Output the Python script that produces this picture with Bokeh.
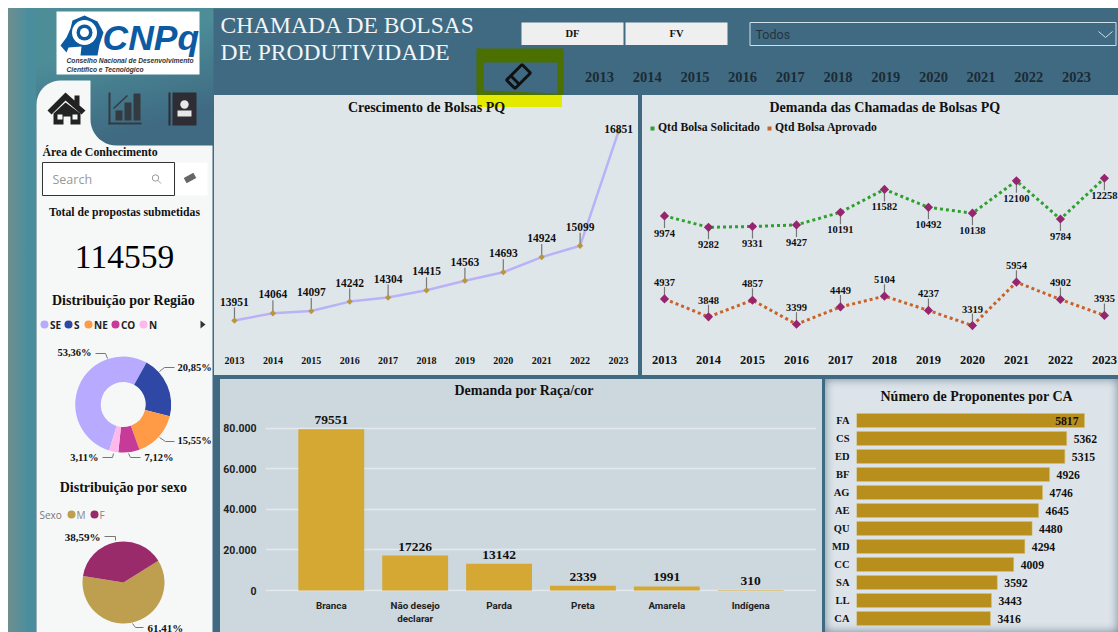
import math
import numpy as np
from bokeh.plotting import figure
from bokeh.layouts import row, column
from bokeh.embed import file_html
from bokeh.resources import INLINE
from bokeh.core.properties import value
from bokeh.models import (ColumnDataSource, Range1d, FactorRange, FixedTicker, Legend, LegendItem, Title)

YEARS = [2013, 2014, 2015, 2016, 2017, 2018, 2019, 2020, 2021, 2022, 2023]
CRESCIMENTO = [13951, 14064, 14097, 14242, 14304, 14415, 14563, 14693, 14924, 15099, 16851]
SOLICITADO = [9974, 9282, 9331, 9427, 10191, 11582, 10492, 10138, 12100, 9784, 12258]
APROVADO = [4937, 3848, 4857, 3399, 4449, 5104, 4237, 3319, 5954, 4902, 3935]
RACA = ["Branca", "Não desejo\ndeclarar", "Parda", "Preta", "Amarela", "Indígena"]
RACA_VAL = [79551, 17226, 13142, 2339, 1991, 310]
RACA_TICKS = [0, 20000, 40000, 60000, 80000]
RACA_TICK_LABELS = ["0", "20.000", "40.000", "60.000", "80.000"]
CA = ["FA", "CS", "ED", "BF", "AG", "AE", "QU", "MD", "CC", "SA", "LL", "CA"]
CA_VAL = [5817, 5362, 5315, 4926, 4746, 4645, 4480, 4294, 4009, 3592, 3443, 3416]
REGIAO = ["SE", "S", "NE", "CO", "N"]
REGIAO_PCT = [53.36, 20.85, 15.55, 7.12, 3.11]
REGIAO_COR = ["#b7aaff", "#2f47a5", "#ff9a47", "#c53b97", "#ffb8ec"]
SEXO = ["M", "F"]
SEXO_PCT = [61.41, 38.59]
SEXO_COR = ["#bd9f4f", "#9a2b6b"]
TOTAL = 114559

SERIF = "Liberation Serif"
SANS = "Open Sans"
DARK = "#3f6a82"
LIGHT = "#dfe6ea"


def put(p, x, y, s, size, color="#111111", style="normal", font=SERIF, align="left"):
    p.text(x=[x], y=[y], text=[s], text_font=value(font), text_font_size=f"{size}px",
           text_font_style=style, text_color=color, text_align=align, text_baseline="middle")


def chrome(w, h, x0, x1):
    p = figure(width=w, height=h, x_range=Range1d(x0, x1), y_range=Range1d(0, h),
               output_backend="svg", toolbar_location=None, x_axis_type=None, y_axis_type=None,
               min_border=0, outline_line_color=None)
    p.grid.visible = False
    return p


# ------------------------------------------------------------------ sidebar
side = chrome(205, 624, 8, 213)
side.background_fill_alpha = 0
side.border_fill_alpha = 0
Y = lambda py: 632 - py

# logo
side.quad(left=56, right=199, top=Y(11), bottom=Y(74), fill_color="white", line_color=None)
hx = [60, 66, 70, 72, 84, 97, 103, 99, 97, 80, 81, 68, 66]
hy = [45, 37, 28, 20, 15, 21, 32, 44, 55, 55, 46, 47, 52]
side.patch(hx, [Y(v) for v in hy], fill_color="#0b5aa2", line_color=None)
side.circle(x=[84], y=[Y(32)], radius=12.5, fill_color="white", line_color=None)
side.circle(x=[84], y=[Y(32)], radius=8, fill_color="#0b5aa2", line_color=None)
side.circle(x=[84], y=[Y(32)], radius=4.5, fill_color="white", line_color=None)
put(side, 102, Y(37), "CNPq", 35.5, "#0b5aa2", "bold italic", "Liberation Sans")
put(side, 66, Y(60), "Conselho Nacional de Desenvolvimento", 6.7, "#333333", "bold italic", "Liberation Sans")
put(side, 66, Y(69), "Científico e Tecnológico", 6.7, "#333333", "bold italic", "Liberation Sans")

# white sidebar with tab
t = np.linspace(0, math.pi / 2, 12)
tab_x = [36] + list(36 + 24 - 24 * np.cos(t)) + [90, 90]
tab_y = [632] + list(80 + 24 - 24 * np.sin(t)) + [80, 118]
cx = 116 - 26 * np.cos(t)
cy = 119 + 26 * np.sin(t)
side_x = tab_x + list(cx) + [212, 212]
side_y = tab_y + list(cy) + [145, 632]
side.patch(side_x, [Y(v) for v in side_y], fill_color="#f6f7f7", line_color=None)

# tab icons
side.patch([47, 65, 74, 74, 79, 79, 85, 81, 65, 51], [Y(v) for v in [110, 92, 100, 95, 95, 105, 110, 114, 100, 114]],
           fill_color="#222222", line_color=None)
side.patch([53, 65, 80, 80, 70, 70, 63, 63, 53], [Y(v) for v in [113, 102, 113, 124, 124, 116, 116, 124, 124]],
           fill_color="#222222", line_color=None)
side.quad(left=[57, 72], right=[62, 77], top=[Y(114), Y(114)], bottom=[Y(119), Y(119)], fill_color="#f6f7f7", line_color=None)
side.quad(left=[108, 108, 115, 124, 133], right=[110, 141, 122, 131, 140],
          top=[Y(92), Y(122), Y(110), Y(102), Y(93)], bottom=[Y(124), Y(124), Y(120), Y(120), Y(120)],
          fill_color="#333a40", line_color=None)
side.line([113, 127], [Y(108), Y(95)], line_color="#333a40", line_width=1.5)
side.quad(left=[168, 172], right=[170, 196], top=[Y(92), Y(92)], bottom=[Y(125), Y(125)], fill_color="#2d2d33", line_color=None)
side.circle(x=[184], y=[Y(104)], radius=4.2, fill_color="#e8e8e8", line_color=None)
side.quad(left=[177], right=[191], top=[Y(110)], bottom=[Y(116)], fill_color="#e8e8e8", line_color=None)

put(side, 42, Y(151), "Área de Conhecimento", 11.8, "#111111", "bold")
side.quad(left=175, right=207, top=Y(162), bottom=Y(195), fill_color="white", line_color=None)
side.quad(left=42, right=174, top=Y(162), bottom=Y(195), fill_color="white", line_color="#333333", line_width=1)
put(side, 52, Y(179), "Search", 12.5, "#999999", "normal", SANS)
side.circle(x=[155], y=[Y(177.5)], radius=3.2, fill_color=None, line_color="#999999", line_width=1)
side.line([157.5, 160.5], [Y(180), Y(183)], line_color="#999999", line_width=1)
side.rect(x=[189.5], y=[Y(177.5)], width=11, height=6, angle=0.5, fill_color="#666666", line_color=None)
put(side, 124, Y(212), "Total de propostas submetidas", 11.7, "#111111", "bold", align="center")
put(side, 124, Y(256), str(TOTAL), 33.5, "#000000", "normal", align="center")
put(side, 123, Y(300), "Distribuição por Região", 14, "#111111", "bold", align="center")

# region legend
leg_dot = [44, 68, 88, 115, 143]
for dx, name, col in zip(leg_dot, REGIAO, REGIAO_COR):
    side.circle(x=[dx], y=[Y(324)], radius=4, fill_color=col, line_color=None)
    put(side, dx + 5.5, Y(324), name, 10, "#222222", "bold", SANS)
side.patch([200, 200, 205], [Y(320), Y(328), Y(324)], fill_color="#333333", line_color=None)


def wedges(pcts, start_deg):
    total = sum(pcts)
    out = []
    a = start_deg
    for v in pcts:
        b = a + v / total * 360
        out.append((math.radians(90 - a), math.radians(90 - b)))
        a = b
    return out


for (a, b), col in zip(wedges(REGIAO_PCT, 197), REGIAO_COR):
    side.annular_wedge(x=[122.7], y=[Y(404)], inner_radius=22.5, outer_radius=48, start_angle=a, end_angle=b,
                       direction="clock", fill_color=col, line_color=None)
for px, py, pct, align in [(91, 352, 0, "right"), (177, 367, 1, "left"), (177, 440, 2, "left"),
                           (144, 457, 3, "left"), (98, 457, 4, "right")]:
    put(side, px, Y(py), f"{REGIAO_PCT[pct]:.2f}".replace(".", ",") + "%", 10.5, "#111111", "bold", align=align)
for lx, ly in [([95, 105, 107], [353, 353, 358]), ([159, 164, 174], [371, 367, 367]),
               ([159, 165, 174], [437, 441, 441]), ([128, 130, 140], [453, 457, 457]),
               ([113, 112, 102], [453, 457, 457])]:
    side.line(lx, [Y(v) for v in ly], line_color="#777777", line_width=1)

put(side, 123, Y(487), "Distribuição por sexo", 14, "#111111", "bold", align="center")
put(side, 39, Y(514), "Sexo", 10, "#777777", "normal", SANS)
for dx, name, col in zip([71, 94], SEXO, SEXO_COR):
    side.circle(x=[dx], y=[Y(514)], radius=4, fill_color=col, line_color=None)
    put(side, dx + 5, Y(514), name, 10, "#888888", "normal", SANS)
for (a, b), col in zip(wedges(SEXO_PCT, 58), SEXO_COR):
    side.wedge(x=[123], y=[Y(582)], radius=41, start_angle=a, end_angle=b, direction="clock",
               fill_color=col, line_color=None)
put(side, 100, Y(536), f"{SEXO_PCT[1]:.2f}".replace(".", ",") + "%", 11, "#111111", "bold", align="right")
put(side, 147, Y(627), f"{SEXO_PCT[0]:.2f}".replace(".", ",") + "%", 11, "#111111", "bold")
side.line([104, 115, 115], [Y(536), Y(536), Y(540)], line_color="#777777", line_width=1)
side.line([132, 135, 143], [Y(623), Y(627), Y(627)], line_color="#777777", line_width=1)

# ------------------------------------------------------------------ header
head = chrome(905, 87, 213, 1118)
head.background_fill_color = DARK
head.border_fill_color = DARK
H = lambda py: 95 - py
put(head, 220, H(24), "CHAMADA DE BOLSAS", 23.5, "#f2f5f7")
put(head, 220, H(51), "DE PRODUTIVIDADE", 23.5, "#f2f5f7")
head.quad(left=[521, 625], right=[623, 727], top=H(22), bottom=H(44.5), fill_color="#efefef", line_color=None)
put(head, 572, H(33), "DF", 10.5, "#111111", "bold", align="center")
put(head, 676, H(33), "FV", 10.5, "#111111", "bold", align="center")
head.quad(left=749.5, right=1115.5, top=H(22), bottom=H(45), fill_color=None, line_color="#cfe0e8", line_width=1)
put(head, 755, H(34), "Todos", 12.5, "#26343f", "normal", "Roboto")
head.line([1098, 1105, 1112], [H(31), H(37), H(31)], line_color="#cfe0e8", line_width=1)
for i, yr in enumerate(YEARS):
    put(head, 599 + i * 47.7, H(76), str(yr), 14.5, "#1d2a33", "bold", align="center")
head.multi_polygons(xs=[[[[476, 563, 563, 476], [483, 483, 557, 557]]]],
                    ys=[[[[H(48), H(48), H(95), H(95)], [H(62), H(90), H(93), H(62)]]]],
                    fill_color="#4b6f00", line_color=None)
head.rect(x=[518], y=[H(76)], width=22, height=12, angle=0.785, fill_color=None, line_color="#111111", line_width=3)
head.line([510.3, 518.7], [H(75.3), H(83.7)], line_color="#111111", line_width=3)


# ------------------------------------------------------------------ helpers for charts
def style_axis(ax, size, font=SERIF, style="bold", standoff=8, color="#111111"):
    ax.major_label_text_font = font
    ax.major_label_text_font_size = f"{size}px"
    ax.major_label_text_font_style = style
    ax.major_label_text_color = color
    ax.major_label_standoff = standoff
    ax.major_tick_line_color = None
    ax.minor_tick_line_color = None
    ax.major_tick_in = 0
    ax.major_tick_out = 0
    ax.minor_tick_in = 0
    ax.minor_tick_out = 0
    ax.axis_line_color = None


def make_title(p, text, standoff, align="center", offset=0):
    p.title = Title(text=text, align=align, offset=offset, standoff=standoff, text_font=SERIF,
                    text_font_size="14px", text_font_style="bold", text_color="#111111")


def panel(p, css):
    p.styles = {"background": css}
    p.background_fill_alpha = 0
    p.border_fill_alpha = 0
    p.outline_line_color = None
    p.xgrid.visible = False
    p.ygrid.visible = False


SQ = dict(marker="square", angle=math.pi / 4, line_color=None)

# ------------------------------------------------------------------ panel 1
p1 = figure(width=424, height=280, margin=(0, 4, 0, 1), output_backend="svg", toolbar_location=None,
            x_range=Range1d(2012.48, 2023.52), y_range=Range1d(13569, 17080),
            min_border_top=20, min_border_bottom=30, min_border_left=0, min_border_right=0)
panel(p1, f"linear-gradient(#e3ea00,#e3ea00) 263px 0/85px 12px no-repeat, {LIGHT}")
make_title(p1, "Crescimento de Bolsas PQ", 4)
p1.yaxis.visible = False
p1.xaxis.ticker = FixedTicker(ticks=YEARS)
style_axis(p1.xaxis[0], 10, standoff=11)
dy1 = [-15] * (len(YEARS) - 1) + [2]
s1 = ColumnDataSource(dict(x=YEARS, y=CRESCIMENTO, lab=[str(v) for v in CRESCIMENTO], dy=dy1))
s1r = ColumnDataSource(dict(x=YEARS[:-1], y=CRESCIMENTO[:-1]))
p1.line("x", "y", source=s1, line_color="#b9b2f7", line_width=2.5)
p1.ray("x", "y", source=s1r, length=13, length_units="screen", angle=math.pi / 2, line_color="#777777", line_width=1.2)
p1.scatter("x", "y", source=s1, size=4.5, fill_color="#b8963e", **SQ)
p1.text("x", "y", text="lab", source=s1, y_offset="dy", text_align="center", text_baseline="bottom",
        text_font=value(SERIF), text_font_size="11.5px", text_font_style="bold", text_color="#111111")

# ------------------------------------------------------------------ panel 2
p2 = figure(width=476, height=280, output_backend="svg", toolbar_location=None,
            x_range=Range1d(2012.5, 2023.32), y_range=Range1d(2111, 16003),
            min_border_top=20, min_border_bottom=30, min_border_left=0, min_border_right=0)
panel(p2, LIGHT)
make_title(p2, "Demanda das Chamadas de Bolsas PQ", 4, "left", 127)
p2.yaxis.visible = False
p2.xaxis.ticker = FixedTicker(ticks=YEARS)
style_axis(p2.xaxis[0], 12.5, standoff=10)
s2a = ColumnDataSource(dict(x=YEARS, y=SOLICITADO, lab=[str(v) for v in SOLICITADO]))
s2b = ColumnDataSource(dict(x=YEARS, y=APROVADO, lab=[str(v) for v in APROVADO]))
p2.line("x", "y", source=s2a, line_color="#2ea02e", line_width=3, line_dash="3 3")
p2.line("x", "y", source=s2b, line_color="#c9622a", line_width=3, line_dash="3 3")
p2.ray("x", "y", source=s2a, length=12, length_units="screen", angle=-math.pi / 2, line_color="#777777", line_width=1.2)
p2.ray("x", "y", source=s2b, length=12, length_units="screen", angle=math.pi / 2, line_color="#777777", line_width=1.2)
for s in (s2a, s2b):
    p2.scatter("x", "y", source=s, size=6.5, fill_color="#97246e", **SQ)
p2.text("x", "y", text="lab", source=s2a, y_offset=14, text_align="center", text_baseline="top",
        text_font=value(SERIF), text_font_size="10.5px", text_font_style="bold", text_color="#111111")
p2.text("x", "y", text="lab", source=s2b, y_offset=-13, text_align="center", text_baseline="bottom",
        text_font=value(SERIF), text_font_size="10.5px", text_font_style="bold", text_color="#111111")
r_a = p2.scatter(YEARS[:1], [float("nan")], size=7, fill_color="#2ea02e", **SQ)
r_b = p2.scatter(YEARS[:1], [float("nan")], size=7, fill_color="#c9622a", **SQ)
legend = Legend(items=[LegendItem(label="Qtd Bolsa Solicitado", renderers=[r_a]),
                       LegendItem(label="Qtd Bolsa Aprovado", renderers=[r_b])],
                orientation="horizontal", location=(5, 211), background_fill_alpha=0, border_line_color=None,
                padding=0, margin=0, spacing=4, glyph_width=10, glyph_height=12, label_height=12,
                label_standoff=1, label_text_font=SERIF, label_text_font_size="11.7px",
                label_text_font_style="bold", label_text_color="#111111")
p2.add_layout(legend)

# ------------------------------------------------------------------ panel 3
p3 = figure(width=602, height=253, margin=(4, 3, 0, 7), output_backend="svg", toolbar_location=None,
            x_range=FactorRange(factors=RACA, range_padding=0.0947, factor_padding=0),
            y_range=Range1d(-490, 94233),
            min_border_top=19, min_border_bottom=41, min_border_left=43, min_border_right=6)
panel(p3, "#cdd7de")
make_title(p3, "Demanda por Raça/cor", 3, "left", 189)
p3.ygrid.visible = True
p3.ygrid.grid_line_color = "#e4e9ed"
p3.ygrid.grid_line_width = 1.5
p3.yaxis.ticker = FixedTicker(ticks=RACA_TICKS)
p3.yaxis.major_label_overrides = dict(zip(RACA_TICKS, RACA_TICK_LABELS))
style_axis(p3.yaxis[0], 10.5, "Roboto", "bold", 9, "#222222")
style_axis(p3.xaxis[0], 9.8, "Roboto", "bold", 8, "#222222")
s3 = ColumnDataSource(dict(x=RACA, y=RACA_VAL, lab=[str(v) for v in RACA_VAL]))
p3.vbar("x", top="y", width=0.785, source=s3, fill_color="#d4a832", line_color=None)
p3.text("x", "y", text="lab", source=s3, y_offset=-5, text_align="center", text_baseline="bottom",
        text_font=value(SERIF), text_font_size="13.5px", text_font_style="bold", text_color="#111111")

# ------------------------------------------------------------------ panel 4
p4 = figure(width=293, height=253, margin=(4, 0, 0, 0), output_backend="svg", toolbar_location=None,
            y_range=FactorRange(factors=CA[::-1], factor_padding=0, range_padding=0),
            x_range=Range1d(0, 6684),
            min_border_top=32, min_border_bottom=5, min_border_left=31, min_border_right=0)
panel(p4, "#dde4e9")
p4.styles = {"background": "#dde4e9", "box-shadow": "inset 0 0 10px #74879a"}
make_title(p4, "Número de Proponentes por CA", 15, "left", 24)
p4.xaxis.visible = False
style_axis(p4.yaxis[0], 10.5, SERIF, "bold", 7, "#111111")
top_val = max(CA_VAL)
s4 = ColumnDataSource(dict(y=CA, x=CA_VAL, lab=[str(v) for v in CA_VAL],
                           al=["right" if v == top_val else "left" for v in CA_VAL],
                           dx=[-6 if v == top_val else 7 for v in CA_VAL]))
p4.hbar("y", right="x", height=0.78, source=s4, fill_color="#b88e1c", line_color="#d8c070", line_width=0.5)
p4.text("x", "y", text="lab", source=s4, x_offset="dx", text_align="al", text_baseline="middle",
        text_font=value(SERIF), text_font_size="11.7px", text_font_style="bold", text_color="#111111")

# ------------------------------------------------------------------ page
right = column(head, row(column(p1), column(p2), spacing=0), row(column(p3), column(p4), spacing=0), spacing=0)
root = row(side, right, spacing=0, width=1110, height=624, margin=(8, 0, 0, 8),
           styles={"background": "linear-gradient(90deg,#6f8f8f 0,#4a8e9e 20px,#4a8e9e 28px,transparent 28px),"
                                 "linear-gradient(165deg,#4c8d98 0,#4c8d98 7%,#3f6a82 17%)"})
open("out.html", "w").write(file_html(root, INLINE))
